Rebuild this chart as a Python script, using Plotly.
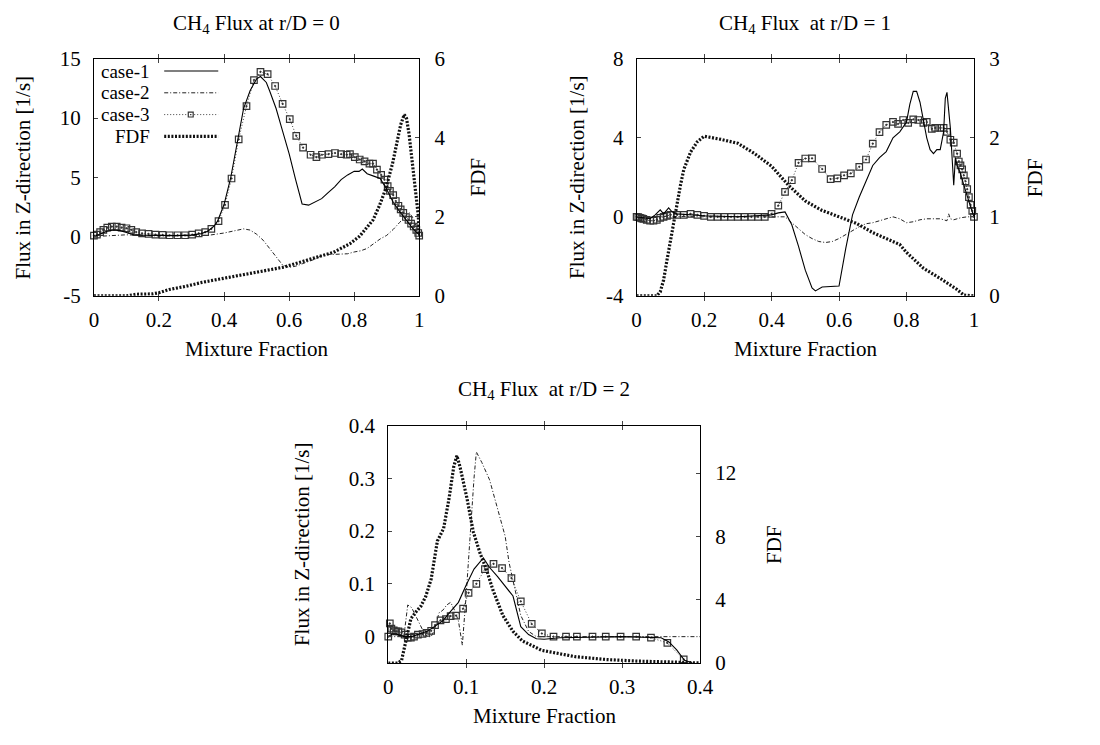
import plotly.graph_objects as go

W, H = 1100, 745
FONT = "Liberation Serif, Times New Roman, Times, DejaVu Serif, serif"
FS = 21

# ---------------- Panel 1: r/D = 0 ----------------
p1_c1_x = [0, 0.02, 0.04, 0.06, 0.08, 0.1, 0.12, 0.15, 0.2, 0.25, 0.3, 0.33, 0.35, 0.37, 0.38, 0.4, 0.42,
           0.44, 0.46, 0.48, 0.5, 0.512, 0.53, 0.54, 0.56, 0.58, 0.6, 0.62, 0.64, 0.66, 0.68, 0.7, 0.72,
           0.74, 0.76, 0.78, 0.8, 0.815, 0.825, 0.84, 0.86, 0.88, 0.9, 0.92, 0.94, 0.96, 0.98, 1.0]
p1_c1_y = [0, 0.2, 0.45, 0.55, 0.5, 0.35, 0.18, 0.12, 0.08, 0.08, 0.12, 0.25, 0.45, 0.9, 1.3, 2.7, 4.9,
           8.0, 10.8, 12.3, 13.3, 13.5, 13.0, 12.3, 10.8, 8.9, 7.0, 4.8, 2.75, 2.65, 2.9, 3.2, 3.7,
           4.2, 4.8, 5.2, 5.5, 5.5, 5.7, 5.3, 5.1, 4.9, 4.0, 2.9, 2.1, 1.4, 0.7, 0.15]

p1_c2_x = [0, 0.05, 0.1, 0.2, 0.3, 0.35, 0.4, 0.44, 0.46, 0.48, 0.5, 0.52, 0.54, 0.56, 0.58, 0.6, 0.62,
           0.64, 0.66, 0.68, 0.7, 0.72, 0.74, 0.76, 0.78, 0.8, 0.82, 0.84, 0.86, 0.88, 0.9, 0.92, 0.94,
           0.96, 0.97, 0.98, 0.99, 1.0]
p1_c2_y = [0, 0.1, 0.15, 0.05, 0.05, 0.1, 0.3, 0.55, 0.65, 0.55, 0.2, -0.3, -1.0, -1.8, -2.4, -2.6, -2.5,
           -2.3, -2.1, -1.9, -1.6, -1.5, -1.5, -1.5, -1.45, -1.3, -1.2, -1.0, -0.6, -0.2, 0.1, 0.6, 1.2,
           1.7, 2.0, 1.6, 0.9, 0.2]

p1_c3_x = [0, 0.009, 0.019, 0.029, 0.041, 0.055, 0.07, 0.085, 0.1, 0.115, 0.13, 0.148, 0.168, 0.189,
           0.211, 0.233, 0.257, 0.28, 0.302, 0.322, 0.342, 0.361, 0.383, 0.403, 0.423, 0.445, 0.469,
           0.492, 0.512, 0.534, 0.557, 0.58, 0.602, 0.622, 0.643, 0.666, 0.684, 0.701, 0.721, 0.741,
           0.76, 0.777, 0.787, 0.802, 0.817, 0.832, 0.847, 0.858, 0.87, 0.883, 0.893, 0.903, 0.91,
           0.92, 0.928, 0.936, 0.943, 0.951, 0.959, 0.967, 0.975, 0.983, 0.991, 0.997, 1.0]
p1_c3_y = [0.08, 0.16, 0.38, 0.57, 0.76, 0.84, 0.84, 0.76, 0.7, 0.57, 0.38, 0.27, 0.22, 0.16,
           0.14, 0.11, 0.11, 0.11, 0.16, 0.27, 0.38, 0.65, 1.3, 2.67, 4.9, 8.2, 11.0,
           13.2, 13.9, 13.7, 12.7, 11.2, 9.9, 8.5, 7.5, 6.9, 6.7, 6.9, 6.95, 7.05,
           6.95, 6.9, 6.95, 6.7, 6.5, 6.35, 6.15, 6.15, 5.65, 5.2, 4.8, 4.25, 3.85,
           3.5, 3.0, 2.6, 2.3, 2.0, 1.65, 1.4, 1.1, 0.85, 0.57, 0.3, 0.08]

p1_f_x = [0, 0.05, 0.1, 0.13, 0.18, 0.2, 0.231, 0.282, 0.332, 0.383, 0.433, 0.484, 0.534, 0.585, 0.635,
          0.686, 0.736, 0.787, 0.817, 0.837, 0.858, 0.878, 0.898, 0.918, 0.933, 0.943, 0.954, 0.961,
          0.969, 0.979, 0.989, 0.997, 1.0]
p1_f_y = [0, 0, 0, 0.04, 0.05, 0.08, 0.16, 0.24, 0.34, 0.42, 0.49, 0.57, 0.65, 0.73, 0.86,
          0.98, 1.1, 1.32, 1.51, 1.71, 1.92, 2.29, 2.73, 3.35, 3.92, 4.33, 4.59, 4.49,
          4.08, 3.35, 2.61, 2.04, 1.55]

# ---------------- Panel 2: r/D = 1 ----------------
p2_c1_x = [0, 0.02, 0.04, 0.055, 0.07, 0.08, 0.095, 0.105, 0.12, 0.2, 0.3, 0.4, 0.42, 0.44, 0.46, 0.48,
           0.5, 0.52, 0.53, 0.55, 0.6, 0.62, 0.64, 0.66, 0.7, 0.72, 0.74, 0.76, 0.78, 0.8, 0.81, 0.82,
           0.83, 0.84, 0.85, 0.86, 0.87, 0.88, 0.89, 0.9, 0.91, 0.915, 0.92, 0.93, 0.94, 0.945, 0.95,
           0.96, 0.97, 0.98, 0.99, 1.0]
p2_c1_y = [0, -0.05, -0.1, 0.1, 0.35, 0.15, 0.45, 0.25, 0.15, 0.05, 0.0, 0.1, 0.2, 0.25, -0.4, -1.5,
           -2.7, -3.6, -3.75, -3.55, -3.5, -1.6, 0.1, 1.0, 2.6, 3.0, 3.3, 4.0, 4.3, 4.8, 5.7, 6.35,
           6.35, 5.8, 4.9, 4.0, 3.4, 3.2, 3.4, 3.4, 4.3, 6.0, 6.3, 4.5, 1.6, 3.0, 2.6,
           2.2, 1.6, 1.0, 0.5, 0]

p2_c2_x = [0, 0.1, 0.2, 0.3, 0.42, 0.44, 0.46, 0.48, 0.5, 0.52, 0.54, 0.56, 0.58, 0.6, 0.62, 0.64, 0.66,
           0.68, 0.7, 0.72, 0.74, 0.76, 0.78, 0.8, 0.82, 0.84, 0.86, 0.88, 0.9, 0.92, 0.925, 0.93, 0.94,
           0.96, 0.98, 1.0]
p2_c2_y = [0, 0.02, 0.0, 0.0, 0.0, 0.0, -0.3, -0.6, -0.9, -1.1, -1.25, -1.3, -1.25, -1.1, -0.9, -0.7, -0.5,
           -0.35, -0.3, -0.2, -0.1, 0.0, -0.1, -0.3, -0.25, -0.15, -0.1, -0.1, -0.1, -0.2, 0.15, -0.1, -0.15,
           -0.05, 0, 0]

p2_c3_x = [0, 0.005, 0.01, 0.015, 0.02, 0.03, 0.04, 0.05, 0.06, 0.07, 0.08, 0.09, 0.1, 0.12, 0.14, 0.16,
           0.18, 0.2, 0.22, 0.24, 0.26, 0.28, 0.3, 0.32, 0.34, 0.36, 0.38, 0.4, 0.42, 0.44, 0.46, 0.48,
           0.5, 0.52, 0.55, 0.575, 0.595, 0.615, 0.635, 0.66, 0.68, 0.7, 0.72, 0.74, 0.76, 0.775, 0.79,
           0.805, 0.82, 0.835, 0.85, 0.86, 0.875, 0.885, 0.9, 0.91, 0.92, 0.93, 0.94, 0.95, 0.955, 0.96,
           0.965, 0.97, 0.975, 0.98, 0.985, 0.99, 0.995, 1.0]
p2_c3_y = [0, -0.02, -0.05, -0.08, -0.1, -0.15, -0.2, -0.2, -0.15, -0.05, 0.0, 0.05, 0.1, 0.1, 0.1, 0.15,
           0.1, 0.05, 0, 0, 0, 0, 0, 0, 0, 0, 0, 0.15, 0.57, 1.26, 1.85, 2.73,
           2.95, 2.96, 2.42, 1.91, 1.95, 2.1, 2.2, 2.53, 2.9, 3.7, 4.29, 4.65, 4.8, 4.7, 4.9,
           4.75, 4.93, 4.9, 4.75, 4.8, 4.45, 4.5, 4.5, 4.5, 4.3, 3.9, 3.75, 3.2, 2.8, 2.6,
           2.4, 2.1, 1.8, 1.4, 1.0, 0.6, 0.3, 0]

p2_f_x = [0, 0.03, 0.06, 0.07, 0.08, 0.09, 0.1, 0.11, 0.12, 0.13, 0.14, 0.15, 0.16, 0.18, 0.2, 0.25,
          0.3, 0.35, 0.4, 0.45, 0.5, 0.55, 0.6, 0.65, 0.7, 0.75, 0.78, 0.8, 0.85, 0.9, 0.95, 0.97, 1.0]
p2_f_y = [0, 0, 0, 0.05, 0.2, 0.45, 0.7, 0.95, 1.2, 1.4, 1.6, 1.72, 1.82, 1.95, 2.02, 1.98,
          1.93, 1.8, 1.64, 1.4, 1.2, 1.08, 1.0, 0.92, 0.8, 0.7, 0.65, 0.55, 0.35, 0.22, 0.08, 0.01, 0]

# ---------------- Panel 3: r/D = 2 ----------------
p3_c1_x = [0, 0.005, 0.01, 0.02, 0.03, 0.04, 0.05, 0.06, 0.07, 0.08, 0.09, 0.1, 0.11, 0.122, 0.13,
           0.14, 0.15, 0.155, 0.16, 0.17, 0.18, 0.19, 0.2, 0.22, 0.3, 0.35, 0.36, 0.37, 0.38, 0.39]
p3_c1_y = [0.0, 0.005, 0.005, 0.0, 0.0, 0.005, 0.01, 0.02, 0.03, 0.048, 0.065, 0.098, 0.128, 0.149, 0.131,
           0.114, 0.095, 0.085, 0.077, 0.019, 0.004, -0.004, -0.005, -0.002, 0.0, -0.002, -0.01, -0.025,
           -0.045, -0.05]

p3_c2_x = [0, 0.02, 0.025, 0.03, 0.035, 0.04, 0.045, 0.05, 0.055, 0.06, 0.065, 0.07, 0.075, 0.08, 0.085,
           0.09, 0.095, 0.1, 0.105, 0.11, 0.113, 0.12, 0.13, 0.14, 0.15, 0.155, 0.165, 0.17, 0.18, 0.19,
           0.2, 0.3, 0.4]
p3_c2_y = [0, 0.0, 0.06, 0.055, 0.04, 0.025, 0.01, 0.0, 0.0, 0.015, 0.045, 0.05, 0.06, 0.065, 0.05,
           0.03, -0.016, 0.08, 0.2, 0.3, 0.35, 0.33, 0.297, 0.242, 0.19, 0.14, 0.07, 0.04, 0.01, 0.0,
           0.0, 0.0, 0.0]

p3_c3_x = [0, 0.002, 0.004, 0.007, 0.01, 0.013, 0.017, 0.021, 0.025, 0.029, 0.033, 0.038, 0.044, 0.049,
           0.055, 0.06, 0.067, 0.074, 0.08, 0.087, 0.096, 0.103, 0.113, 0.124, 0.135, 0.146, 0.158,
           0.17, 0.184, 0.197, 0.212, 0.228, 0.242, 0.262, 0.279, 0.298, 0.318, 0.337, 0.358, 0.379]
p3_c3_y = [0.0, 0.025, 0.015, 0.012, 0.01, 0.01, 0.008, 0.004, -0.002, -0.002, 0.0, 0.004, 0.005, 0.007,
           0.011, 0.022, 0.031, 0.033, 0.039, 0.04, 0.053, 0.083, 0.1, 0.128, 0.138, 0.13, 0.111,
           0.067, 0.024, 0.006, 0.0, 0.0, 0.0, 0.0, 0.0, 0.0, 0.0, -0.002, -0.012, -0.043]
p3_c3_line_x = p3_c3_x + [0.39]
p3_c3_line_y = p3_c3_y + [-0.05]

p3_f_x = [0, 0.012, 0.017, 0.021, 0.025, 0.029, 0.035, 0.042, 0.048, 0.055, 0.063, 0.071, 0.078, 0.084,
          0.088, 0.092, 0.101, 0.109, 0.118, 0.126, 0.134, 0.147, 0.16, 0.172, 0.197, 0.24, 0.28, 0.32,
          0.366, 0.4]
p3_f_y = [0, 0, 0.15, 1.0, 2.0, 2.8, 3.2, 3.6, 4.2, 5.3, 7.7, 8.5, 10.4, 12.4,
          13.1, 12.4, 10.4, 8.3, 6.9, 5.9, 4.65, 3.0, 2.0, 1.4, 0.8, 0.4, 0.22, 0.12,
          0.06, 0.0]

titles = ["CH<sub>4</sub> Flux at r/D = 0",
          "CH<sub>4</sub> Flux&nbsp; at r/D = 1",
          "CH<sub>4</sub> Flux&nbsp; at r/D = 2"]
x_label = "Mixture Fraction"
y_label = "Flux in Z-direction [1/s]"
y2_label = "FDF"
legend_names = ["case-1", "case-2", "case-3", "FDF"]

xticks = [[0, 0.2, 0.4, 0.6, 0.8, 1], [0, 0.2, 0.4, 0.6, 0.8, 1], [0, 0.1, 0.2, 0.3, 0.4]]
xticktext = [["0", "0.2", "0.4", "0.6", "0.8", "1"], ["0", "0.2", "0.4", "0.6", "0.8", "1"],
             ["0", "0.1", "0.2", "0.3", "0.4"]]
yticks = [[-5, 0, 5, 10, 15], [-4, 0, 4, 8], [0, 0.1, 0.2, 0.3, 0.4]]
yticktext = [["-5", "0", "5", "10", "15"], ["-4", "0", "4", "8"], ["0", "0.1", "0.2", "0.3", "0.4"]]
y2ticks = [[0, 2, 4, 6], [0, 1, 2, 3], [0, 4, 8, 12]]
y2ticktext = [["0", "2", "4", "6"], ["0", "1", "2", "3"], ["0", "4", "8", "12"]]

# layout: panel boxes in pixels (left, right, top, bottom) and axis ranges
boxes = [(90.5, 421.5, 48.3, 293.3), (642.7, 986.0, 48.3, 293.3), (390.0, 707.3, 427.3, 672.7)]
xranges = [[0, 1], [0, 1], [0, 0.4]]
yranges = [[-5, 15], [-4, 8], [-0.05, 0.4]]
y2ranges = [[0, 6], [0, 3], [0, 15]]
ylab_off = [72, 60, 88]
y2lab_off = [60, 62, 76]

def px(x):
    return x / W

def py(y):
    return 1 - y / H

data = [
    (p1_c1_x, p1_c1_y, p1_c2_x, p1_c2_y, p1_c3_x, p1_c3_y, p1_c3_x, p1_c3_y, p1_f_x, p1_f_y),
    (p2_c1_x, p2_c1_y, p2_c2_x, p2_c2_y, p2_c3_x, p2_c3_y, p2_c3_x, p2_c3_y, p2_f_x, p2_f_y),
    (p3_c1_x, p3_c1_y, p3_c2_x, p3_c2_y, p3_c3_x, p3_c3_y, p3_c3_line_x, p3_c3_line_y, p3_f_x, p3_f_y),
]

LINE1 = dict(color="black", width=1.1)
LINE2 = dict(color="#222", width=1, dash="4px,2px,1px,2px")
LINE3 = dict(color="#444", width=1, dash="1px,2px")
LINEF = dict(color="#111", width=3.2, dash="2px,1.6px")
MARK3 = dict(symbol="square-open-dot", size=6.5, color="#333", line=dict(color="#333", width=1.2))

fig = go.Figure()
layout = dict(width=W, height=H, margin=dict(l=0, r=0, t=0, b=0), autosize=False,
              paper_bgcolor="white", plot_bgcolor="white", showlegend=False,
              font=dict(family=FONT, size=FS, color="black"))
annotations = []
shapes = []

def axfont(size=FS):
    return dict(family=FONT, size=size, color="black")

for i in range(3):
    l, r, t, b = boxes[i]
    xa = "xaxis" if i == 0 else f"xaxis{i+1}"
    xref = "x" if i == 0 else f"x{i+1}"
    ya_n = 2 * i + 1
    y2_n = 2 * i + 2
    ya = "yaxis" if ya_n == 1 else f"yaxis{ya_n}"
    yref = "y" if ya_n == 1 else f"y{ya_n}"
    y2a = f"yaxis{y2_n}"
    y2ref = f"y{y2_n}"
    dom_x = [px(l), px(r)]
    dom_y = [py(b), py(t)]
    layout[xa] = dict(domain=dom_x, anchor=yref, range=xranges[i], tickvals=xticks[i],
                      ticktext=xticktext[i], ticks="inside", ticklen=4, tickwidth=1,
                      showline=True, linecolor="black", linewidth=1, mirror="allticks",
                      showgrid=False, zeroline=False, tickfont=axfont(), ticklabelstandoff=5)
    layout[ya] = dict(domain=dom_y, anchor=xref, range=yranges[i], tickvals=yticks[i],
                      ticktext=yticktext[i],
                      ticks="inside", ticklen=4, tickwidth=1, showline=True, linecolor="black",
                      linewidth=1, mirror=False, showgrid=False, zeroline=False, tickfont=axfont(),
                      ticklabelstandoff=8)
    layout[y2a] = dict(domain=dom_y, anchor=xref, overlaying=yref, side="right", range=y2ranges[i],
                       tickvals=y2ticks[i], ticktext=y2ticktext[i], ticks="inside", ticklen=4,
                       tickwidth=1, showline=True,
                       linecolor="black", linewidth=1, showgrid=False, zeroline=False,
                       tickfont=axfont(), ticklabelstandoff=10)
    (c1x, c1y, c2x, c2y, c3x, c3y, c3lx, c3ly, fx, fy) = data[i]
    fig.add_trace(go.Scatter(x=fx, y=fy, mode="lines", line=LINEF, xaxis=xref, yaxis=y2ref,
                             name="FDF"))
    fig.add_trace(go.Scatter(x=c2x, y=c2y, mode="lines", line=LINE2, xaxis=xref, yaxis=yref,
                             name="case-2"))
    fig.add_trace(go.Scatter(x=c3lx, y=c3ly, mode="lines", line=LINE3, xaxis=xref, yaxis=yref,
                             name="case-3"))
    fig.add_trace(go.Scatter(x=c3x, y=c3y, mode="markers", marker=MARK3, xaxis=xref, yaxis=yref,
                             name="case-3", cliponaxis=False))
    fig.add_trace(go.Scatter(x=c1x, y=c1y, mode="lines", line=LINE1, xaxis=xref, yaxis=yref,
                             name="case-1"))
    cx = (l + r) / 2
    cy = (t + b) / 2
    title_y = 12 if i < 2 else 391
    annotations.append(dict(text=titles[i], x=px(cx), y=py(title_y), xref="paper", yref="paper",
                            xanchor="center", yanchor="middle", showarrow=False, font=axfont()))
    annotations.append(dict(text=x_label, x=px(cx), y=py(b + 55), xref="paper", yref="paper",
                            xanchor="center", yanchor="middle", showarrow=False, font=axfont()))
    annotations.append(dict(text=y_label, x=px(l - ylab_off[i]), y=py(cy), xref="paper", yref="paper",
                            xanchor="center", yanchor="middle", textangle=-90, showarrow=False,
                            font=axfont()))
    annotations.append(dict(text=y2_label, x=px(r + y2lab_off[i]), y=py(cy), xref="paper",
                            yref="paper", xanchor="center", yanchor="middle", textangle=-90,
                            showarrow=False, font=axfont()))

# legend of panel 1 (text then sample, gnuplot style)
leg_y = [61, 83.5, 106, 128.5]
leg_styles = [LINE1, LINE2, LINE3, LINEF]
for name, yy, st in zip(legend_names, leg_y, leg_styles):
    annotations.append(dict(text=name, x=px(149), y=py(yy), xref="paper", yref="paper",
                            xanchor="right", yanchor="middle", showarrow=False, font=axfont(19),
                            borderpad=0))
    shapes.append(dict(type="line", xref="paper", yref="paper", x0=px(162), x1=px(217),
                       y0=py(yy), y1=py(yy), line=st))
mk_y = leg_y[2]
shapes.append(dict(type="rect", xref="paper", yref="paper", x0=px(186.5), x1=px(191.5),
                   y0=py(mk_y + 2.5), y1=py(mk_y - 2.5), fillcolor="white",
                   line=dict(color="#333", width=1.2)))
shapes.append(dict(type="rect", xref="paper", yref="paper", x0=px(188.3), x1=px(189.7),
                   y0=py(mk_y + 0.7), y1=py(mk_y - 0.7), fillcolor="#333", line=dict(width=0)))

layout["annotations"] = annotations
layout["shapes"] = shapes
fig.update_layout(**layout)
fig.write_html("out.html")
